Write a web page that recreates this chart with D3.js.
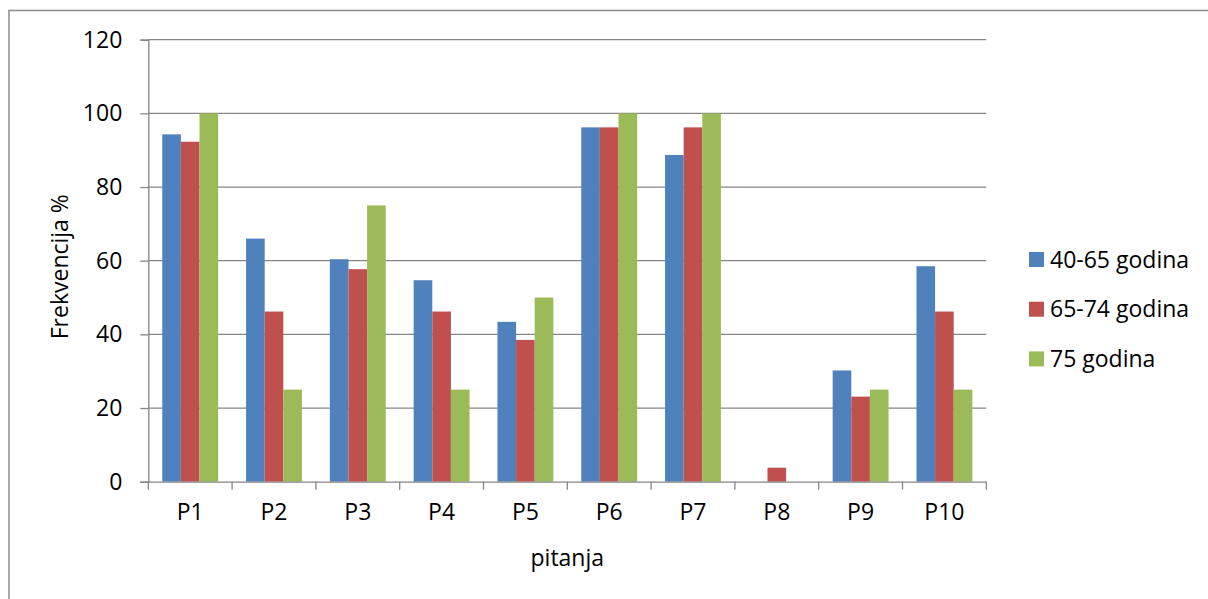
<!DOCTYPE html>
<html>
<head>
<meta charset="utf-8">
<script src="https://cdn.jsdelivr.net/npm/d3@7"></script>
<style>
  html, body { margin: 0; padding: 0; background: #fff; }
  svg { display: block; font-family: "Open Sans", "Liberation Sans", sans-serif; }
</style>
</head>
<body>
<svg id="chart" width="1208" height="599"></svg>
<script>
const categories = ["P1", "P2", "P3", "P4", "P5", "P6", "P7", "P8", "P9", "P10"];
const seriesNames = ["40-65 godina", "65-74 godina", "75 godina"];
const series4065 = [94.3, 66.0, 60.4, 54.7, 43.4, 96.2, 88.7, 0, 30.2, 58.5];
const series6574 = [92.3, 46.2, 57.7, 46.2, 38.5, 96.2, 96.2, 3.8, 23.1, 46.2];
const series75 = [100, 25, 75, 25, 50, 100, 100, 0, 25, 25];
const yTicks = [0, 20, 40, 60, 80, 100, 120];
const colors = ["#4F81BD", "#C0504D", "#9BBB59"];
const yTitle = "Frekvencija %";
const xTitle = "pitanja";

const allSeries = [series4065, series6574, series75];
const svg = d3.select("#chart");
const gridColor = "#868686";
const fontSize = 23;

const pL = 148.3, pR = 986.3, pT = 39.7, pB = 481.7;

const x = d3.scaleBand().domain(categories).range([pL, pR]).paddingInner(0).paddingOuter(0);
const xs = d3.scaleBand().domain(d3.range(seriesNames.length)).range([0, x.bandwidth()]).paddingInner(0).paddingOuter(0.75);
const y = d3.scaleLinear().domain([0, 120]).range([pB, pT]);

// outer border
svg.append("path")
  .attr("d", `M9,599 L9,10.5 L1208,10.5`)
  .attr("fill", "none").attr("stroke", "#8c8c8c").attr("stroke-width", 1.5);

// gridlines
svg.append("g").selectAll("line").data(yTicks.filter(d => d > 0)).join("line")
  .attr("x1", pL).attr("x2", pR)
  .attr("y1", d => y(d)).attr("y2", d => y(d))
  .attr("stroke", gridColor).attr("stroke-width", 1.3);

// bars
const groups = svg.append("g").selectAll("g").data(categories).join("g")
  .attr("transform", d => `translate(${x(d)},0)`);
groups.selectAll("rect")
  .data((c, i) => allSeries.map((s, k) => ({ k, v: s[i] })))
  .join("rect")
  .attr("x", d => xs(d.k))
  .attr("width", xs.bandwidth())
  .attr("y", d => y(d.v))
  .attr("height", d => y(0) - y(d.v))
  .attr("fill", d => colors[d.k]);

// y axis
const yAxis = d3.axisLeft(y).tickValues(yTicks).tickSize(8).tickPadding(18).tickFormat(d3.format("d"));
const gy = svg.append("g").attr("transform", `translate(${pL},0)`).call(yAxis);
gy.select(".domain").attr("stroke", gridColor).attr("stroke-width", 1.3);
gy.selectAll(".tick line").attr("stroke", gridColor).attr("stroke-width", 1.3);
gy.selectAll(".tick text").attr("font-size", fontSize).attr("fill", "#000")
  .attr("font-family", "Open Sans");

// x axis
const xAxis = d3.axisBottom(x).tickSize(0).tickPadding(22);
const gx = svg.append("g").attr("transform", `translate(0,${pB})`).call(xAxis);
gx.select(".domain").attr("stroke", gridColor).attr("stroke-width", 1.3);
gx.selectAll(".tick text").attr("font-size", fontSize).attr("fill", "#000")
  .attr("font-family", "Open Sans");
// category boundary tick marks
const boundaries = categories.map(c => x(c)).concat([pR]);
svg.append("g").selectAll("line").data(boundaries).join("line")
  .attr("x1", d => d).attr("x2", d => d)
  .attr("y1", pB).attr("y2", pB + 8)
  .attr("stroke", gridColor).attr("stroke-width", 1.3);

// axis titles
svg.append("text")
  .attr("x", (pL + pR) / 2).attr("y", 566)
  .attr("text-anchor", "middle").attr("font-size", fontSize).attr("fill", "#000")
  .text(xTitle);
svg.append("text")
  .attr("transform", `translate(68,${(pT + pB) / 2 + 6}) rotate(-90)`)
  .attr("text-anchor", "middle").attr("font-size", fontSize).attr("fill", "#000")
  .text(yTitle);

// legend
const legend = svg.append("g").selectAll("g").data(seriesNames).join("g")
  .attr("transform", (d, i) => `translate(1029,${259.5 + i * 49.7})`);
legend.append("rect").attr("x", 0).attr("y", -7.5).attr("width", 15).attr("height", 15)
  .attr("fill", (d, i) => colors[i]);
legend.append("text").attr("x", 21).attr("y", 0).attr("dy", "0.35em")
  .attr("font-size", fontSize).attr("fill", "#000").text(d => d);
</script>
</body>
</html>
